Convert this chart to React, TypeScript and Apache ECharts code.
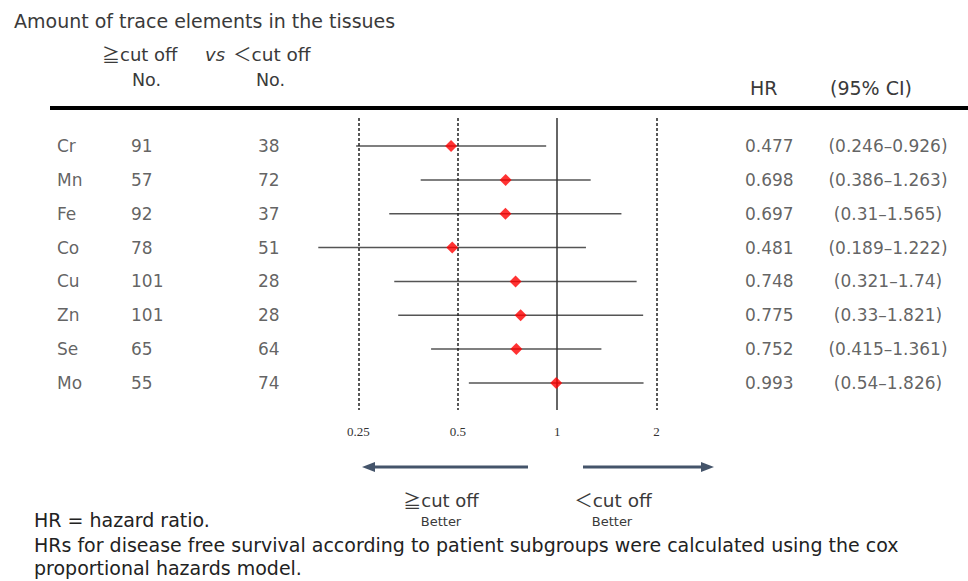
import React, { useEffect, useRef } from "react";
import * as echarts from "echarts";

const elements = ["Cr", "Mn", "Fe", "Co", "Cu", "Zn", "Se", "Mo"];
const nHigh = [91, 57, 92, 78, 101, 101, 65, 55];
const nLow = [38, 72, 37, 51, 28, 28, 64, 74];
const hr = [0.477, 0.698, 0.697, 0.481, 0.748, 0.775, 0.752, 0.993];
const ciLow = [0.246, 0.386, 0.31, 0.189, 0.321, 0.33, 0.415, 0.54];
const ciHigh = [0.926, 1.263, 1.565, 1.222, 1.74, 1.821, 1.361, 1.826];
const tickLabels = [0.25, 0.5, 1, 2];
const dashedRefs = [0.25, 0.5, 2];
const solidRef = 1;

const SANS = "'DejaVu Sans', 'Noto Sans CJK JP', sans-serif";
const CJK = "'Noto Sans CJK JP', sans-serif";
const TXT = "#3a3a3a";

export default function App() {
  const ref = useRef<HTMLDivElement>(null);
  useEffect(() => {
    if (!ref.current) return;
    const chart = echarts.init(ref.current, null, { renderer: "svg" });

    const textCol = (x: number, texts: string[], align: string) => ({
      type: "scatter",
      xAxisIndex: 0,
      yAxisIndex: 0,
      symbolSize: 0,
      silent: true,
      data: texts.map((t, i) => ({ value: [x, i + 1], name: t })),
      label: {
        show: true,
        position: [0, 0],
        align,
        verticalAlign: "middle",
        formatter: "{b}",
        fontFamily: SANS,
        fontSize: 17,
        color: TXT,
      },
    });

    const yCfg = (gi: number) => ({
      type: "value",
      gridIndex: gi,
      inverse: true,
      min: 0.17,
      max: 8.8,
      show: false,
    });

    const t = (text: string, x: number, y: number, size: number, extra: any = {}) => ({
      type: "text",
      x,
      y,
      style: { text, fontFamily: SANS, fontSize: size, fill: TXT, verticalAlign: "middle", ...extra },
    });

    const geq = (x: number, y: number, size: number, extra: any = {}) => ({
      type: "text",
      x,
      y,
      style: {
        text: "{s|\u2267}cut off",
        fontFamily: SANS,
        fontSize: size,
        fill: TXT,
        verticalAlign: "middle",
        rich: { s: { fontFamily: CJK, fontSize: size, fill: TXT } },
        ...extra,
      },
    });

    const option: any = {
      animation: false,
      backgroundColor: "#fff",
      grid: [
        { left: 0, right: 0, top: 118, bottom: 171 },
        { left: 259, right: 212, top: 118, bottom: 171 },
      ],
      xAxis: [
        { type: "value", gridIndex: 0, min: 0, max: 968, show: false },
        {
          type: "log",
          logBase: 2,
          gridIndex: 1,
          min: 0.125,
          max: 4,
          axisLine: { show: false },
          axisTick: { show: false },
          splitLine: { show: false },
          axisLabel: {
            fontFamily: "'Liberation Serif', serif",
            fontSize: 13,
            color: "#333",
            margin: 15,
            formatter: (v: number) => {
              const r = Math.round(v * 1000) / 1000;
              return tickLabels.includes(r) ? String(r) : "";
            },
          },
        },
      ],
      yAxis: [yCfg(0), yCfg(1)],
      series: [
        textCol(57, elements, "left"),
        textCol(131, nHigh.map(String), "left"),
        textCol(258, nLow.map(String), "left"),
        textCol(745, hr.map((v) => v.toFixed(3)), "left"),
        textCol(
          888,
          ciLow.map((lo, i) => `(${lo}\u2013${ciHigh[i]})`),
          "center"
        ),
        {
          type: "custom",
          xAxisIndex: 1,
          yAxisIndex: 1,
          silent: true,
          encode: { x: [0, 1], y: 2 },
          data: ciLow.map((lo, i) => [lo, ciHigh[i], i + 1]),
          renderItem: (params: any, api: any) => {
            const s = api.coord([api.value(0), api.value(2)]);
            const e = api.coord([api.value(1), api.value(2)]);
            return {
              type: "line",
              shape: { x1: s[0], y1: s[1], x2: e[0], y2: e[1] },
              style: { stroke: "#555", lineWidth: 1.5 },
            };
          },
          z: 3,
        },
        {
          type: "scatter",
          xAxisIndex: 1,
          yAxisIndex: 1,
          symbol: "diamond",
          symbolSize: [12, 12],
          itemStyle: { color: "#ff0000" },
          data: hr.map((v, i) => [v, i + 1]),
          z: 5,
          markLine: {
            silent: true,
            symbol: "none",
            label: { show: false },
            data: [
              ...dashedRefs.map((v) => ({
                xAxis: v,
                lineStyle: { color: "#222", width: 1.5, type: [3, 2] },
              })),
              {
                xAxis: solidRef,
                lineStyle: { color: "#333", width: 1.5, type: "solid" },
              },
            ],
          },
        },
      ],
      graphic: [
        t("Amount of trace elements in the tissues", 14, 21, 19),
        geq(102, 54, 18),
        t("vs", 205, 54, 18, { fontStyle: "italic" }),
        t("\uff1ccut off", 233, 54, 18.5),
        t("No.", 132, 80, 17.5),
        t("No.", 256, 80, 17.5),
        t("HR", 750, 88, 19),
        t("(95% CI)", 830, 88, 19),
        {
          type: "line",
          shape: { x1: 50, y1: 108, x2: 968, y2: 108 },
          style: { stroke: "#000", lineWidth: 4 },
        },
        {
          type: "line",
          shape: { x1: 372, y1: 467, x2: 528, y2: 467 },
          style: { stroke: "#44546a", lineWidth: 3 },
        },
        {
          type: "polygon",
          shape: { points: [[362, 467], [375, 462], [375, 472]] },
          style: { fill: "#44546a" },
        },
        {
          type: "line",
          shape: { x1: 583, y1: 467, x2: 704, y2: 467 },
          style: { stroke: "#44546a", lineWidth: 3 },
        },
        {
          type: "polygon",
          shape: { points: [[714, 467], [701, 462], [701, 472]] },
          style: { fill: "#44546a" },
        },
        geq(441, 500, 18, { align: "center" }),
        t("Better", 441, 521, 13, { align: "center" }),
        t("\uff1ccut off", 613, 500, 18.5, { align: "center" }),
        t("Better", 612, 521, 13, { align: "center" }),
        t("HR = hazard ratio.", 34, 520, 19, { fill: "#222" }),
        t("HRs for disease free survival according to patient subgroups were calculated using the cox", 34, 545, 19, { fill: "#222" }),
        t("proportional hazards model.", 34, 568, 19, { fill: "#222" }),
      ],
    };
    chart.setOption(option);
    return () => chart.dispose();
  }, []);
  return (
    <div
      ref={ref}
      style={{ position: "fixed", left: 0, top: 0, width: 968, height: 581 }}
    />
  );
}
